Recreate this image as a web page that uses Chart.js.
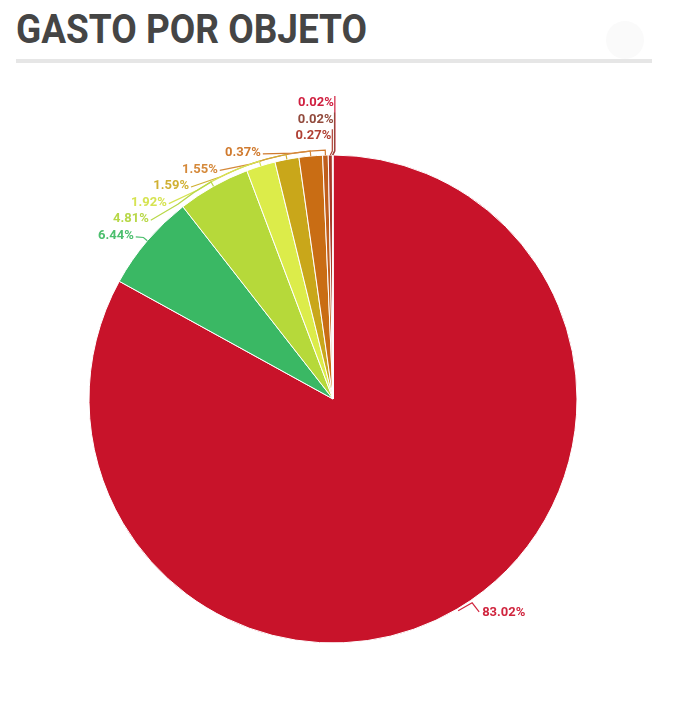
<!DOCTYPE html>
<html>
<head>
<meta charset="utf-8">
<script src="https://cdn.jsdelivr.net/npm/chart.js"></script>
<style>
  html, body { margin: 0; padding: 0; background: #fff; }
  body { width: 690px; height: 711px; position: relative; overflow: hidden; }
  #title {
    position: absolute; left: 16px; top: 6px; margin: 0;
    font-family: Roboto, sans-serif; font-weight: 700; font-size: 40px;
    color: #454545; white-space: nowrap; transform-origin: 0 0; line-height: 48px;
  }
  #rule { position: absolute; left: 16px; top: 59px; width: 636px; height: 4px; background: #e6e6e6; }
  #dot { position: absolute; left: 606px; top: 21px; width: 38px; height: 38px; border-radius: 50%; background: #fafafa; }
  #wrap { position: absolute; left: 0; top: 0; width: 690px; height: 711px; }
</style>
</head>
<body>
<h1 id="title">GASTO POR OBJETO</h1>
<div id="rule"></div>
<div id="dot"></div>
<div id="wrap"><canvas id="pieChart"></canvas></div>
<script>
// data
var labels = ['Obj 1', 'Obj 2', 'Obj 3', 'Obj 4', 'Obj 5', 'Obj 6', 'Obj 7', 'Obj 8', 'Obj 9', 'Obj 10'];
var values = [83.02, 6.44, 4.81, 1.92, 1.59, 1.55, 0.37, 0.27, 0.02, 0.02];
var sliceColors = ['#c8132a', '#3ab864', '#b6d93a', '#dcec4a', '#c9a71a', '#c96d14', '#c05e1c', '#a8382a', '#8c3a2a', '#c41e3a'];
var labelColors = ['#d0253e', '#4cbf6e', '#b8d848', '#d6e352', '#d0b032', '#d5893a', '#d07a2e', '#b04034', '#924a3c', '#d02040'];

// fit title width like the original condensed heading
var t = document.getElementById('title');
t.style.transform = 'scaleX(' + (351 / t.getBoundingClientRect().width) + ')';

var labelPlugin = {
    id: 'leaderLabels',
    afterDatasetsDraw: function (chart) {
        var c = chart.ctx;
        var arcs = chart.getDatasetMeta(0).data;
        c.save();
        c.font = 'bold 13px Roboto, sans-serif';
        c.textBaseline = 'middle';
        c.lineWidth = 1.2;

        var first = arcs[0];
        var cx = first.x, cy = first.y, R = first.outerRadius;

        // big slice: label to the lower right
        var m0 = (first.startAngle + first.endAngle) / 2;
        var p0x = cx + (R + 2) * Math.cos(m0), p0y = cy + (R + 2) * Math.sin(m0);
        c.strokeStyle = labelColors[0];
        c.beginPath();
        c.moveTo(p0x, p0y);
        c.lineTo(p0x + 14, p0y - 8);
        c.lineTo(p0x + 21, p0y + 1);
        c.stroke();
        c.fillStyle = labelColors[0];
        c.textAlign = 'left';
        c.fillText(values[0].toFixed(2) + '%', p0x + 24, p0y + 2);

        // small slices: stacked on the upper left
        var step = 16.6;
        var top = cy - R - 52;
        var arcR = R + 5, labR = R + 12;
        for (var k = arcs.length - 1, row = 0; k >= 1; k--, row++) {
            var a = arcs[k];
            var mid = (a.startAngle + a.endAngle) / 2;
            var y = top + row * step;
            var dy = y - cy;
            var txt = values[k].toFixed(2) + '%';
            c.strokeStyle = labelColors[k];
            c.fillStyle = labelColors[k];
            c.textAlign = 'right';
            var tx = cx + R * Math.cos(mid), ty = cy + R * Math.sin(mid);
            if (Math.abs(dy) >= labR) {
                var lx = tx + 2;
                c.fillText(txt, lx - 1, y);
                c.beginPath();
                c.moveTo(lx, y - 7);
                c.lineTo(lx, ty - 4);
                c.lineTo(tx, ty);
                c.stroke();
            } else {
                var right = cx - Math.sqrt(labR * labR - dy * dy) - 2;
                c.fillText(txt, right, y);
                var ex = right + 2, ey = y + 1;
                var angE = Math.atan2(ey - cy, ex - cx);
                if (angE < 0) angE += 2 * Math.PI;
                var angJ = Math.min(angE + 7 * Math.PI / 180, mid);
                c.beginPath();
                c.moveTo(ex, ey);
                c.lineTo(cx + arcR * Math.cos(angJ), cy + arcR * Math.sin(angJ));
                if (mid > angJ) c.arc(cx, cy, arcR, angJ, mid, false);
                c.lineTo(tx, ty);
                c.stroke();
            }
        }
        c.restore();
    }
};

var ctx = document.getElementById('pieChart').getContext('2d');
var pieChart = new Chart(ctx, {
    type: 'pie',
    data: {
        labels: labels,
        datasets: [{
            data: values,
            backgroundColor: sliceColors,
            borderColor: '#ffffff',
            borderWidth: 1
        }]
    },
    options: {
        responsive: true,
        maintainAspectRatio: false,
        animation: false,
        layout: { padding: { left: 88.5, top: 154.5, right: 112.5, bottom: 67.5 } },
        plugins: {
            legend: { display: false },
            tooltip: { enabled: false }
        }
    },
    plugins: [labelPlugin]
});
</script>
</body>
</html>
